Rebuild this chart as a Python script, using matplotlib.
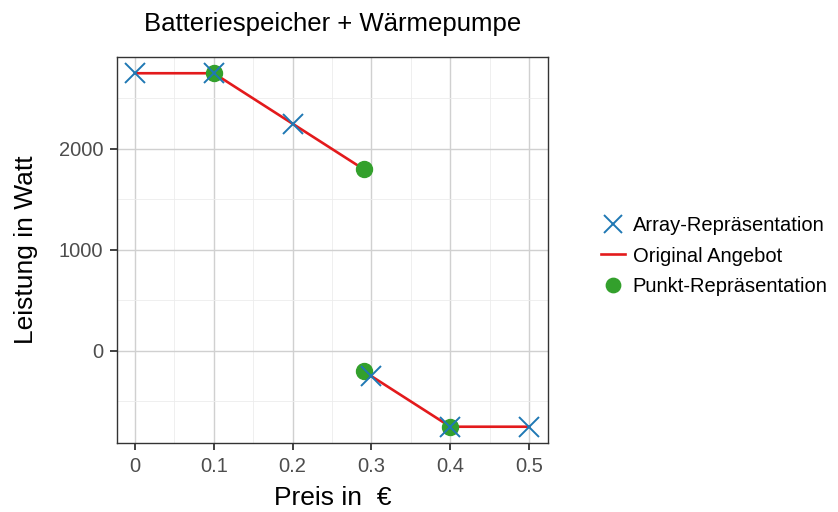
import matplotlib.pyplot as plt
from matplotlib.ticker import MultipleLocator

plt.rcParams['font.family'] = ['Liberation Sans', 'DejaVu Sans']

# Array representation (crosses)
arr_x = [0.0, 0.1, 0.2, 0.3, 0.4, 0.5]
arr_y = [2750, 2750, 2250, -250, -750, -750]

# original offer (red line), two segments
line1_x = [0.0, 0.1, 0.29]
line1_y = [2750, 2750, 1800]
line2_x = [0.29, 0.4, 0.5]
line2_y = [-200, -750, -750]

# point representation (green dots)
pt_x = [0.1, 0.29, 0.29, 0.4]
pt_y = [2750, 1800, -200, -750]

blue = '#1f78b4'
red = '#e31a1c'
green = '#33a02c'

fig = plt.figure(figsize=(8.38, 5.12), dpi=100)
ax = fig.add_axes([0.1396, 0.1348, 0.654 - 0.1396, 0.8887 - 0.1348])

ax.plot(line1_x, line1_y, color=red, lw=1.9, zorder=3, label='Original Angebot')
ax.plot(line2_x, line2_y, color=red, lw=1.9, zorder=3)
ax.plot(pt_x, pt_y, 'o', color=green, ms=11.5, zorder=4, label='Punkt-Repräsentation')
ax.plot(arr_x, arr_y, 'x', color=blue, ms=15, mew=1.4, zorder=5, label='Array-Repräsentation')

ax.set_xlim(-0.0228, 0.524)
ax.set_ylim(-911, 2911)
ax.xaxis.set_major_locator(MultipleLocator(0.1))
ax.xaxis.set_minor_locator(MultipleLocator(0.05))
ax.yaxis.set_major_locator(MultipleLocator(1000))
ax.yaxis.set_minor_locator(MultipleLocator(500))
ax.set_xticks([0, 0.1, 0.2, 0.3, 0.4, 0.5])
ax.set_xticklabels(['0', '0.1', '0.2', '0.3', '0.4', '0.5'])

ax.grid(which='major', color='#d0d0d0', lw=1.0, zorder=0)
ax.grid(which='minor', color='#ececec', lw=0.6, zorder=0)
ax.set_axisbelow(True)
ax.tick_params(which='major', direction='out', length=5, width=1.3, color='#333333',
               labelcolor='#4d4d4d', labelsize=14.5, pad=5)
ax.tick_params(which='minor', length=0)
for s in ax.spines.values():
    s.set_color('#333333')
    s.set_linewidth(1.0)

ax.set_title('Batteriespeicher + Wärmepumpe', fontsize=18.5, pad=19)
ax.set_xlabel('Preis in  €', fontsize=19, labelpad=7)
ax.set_ylabel('Leistung in Watt', fontsize=19, labelpad=15)

handles, labels = ax.get_legend_handles_labels()
order = [2, 0, 1]
fig.legend([handles[i] for i in order], [labels[i] for i in order],
           loc='center left', bbox_to_anchor=(0.695, 0.50), frameon=False,
           fontsize=14.5, handlelength=1.2, handletextpad=0.4, labelspacing=0.55,
           markerscale=0.9)

fig.savefig('out.png', dpi=100)
